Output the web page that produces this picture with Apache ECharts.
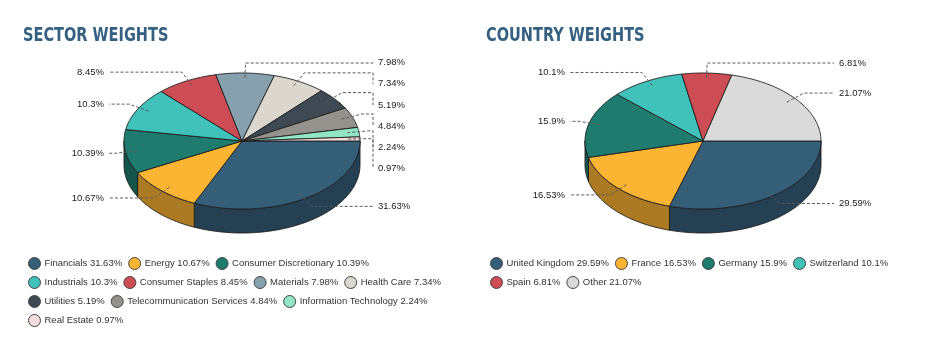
<!DOCTYPE html>
<html>
<head>
<meta charset="utf-8">
<script src="https://cdn.jsdelivr.net/npm/echarts@6/dist/echarts.min.js"></script>
<style>
html,body{margin:0;padding:0;background:#fff;}
#chart{width:926px;height:349px;}
</style>
</head>
<body>
<div id="chart"></div>
<script>
// ---- data ----
const sectorNames = ['Financials', 'Energy', 'Consumer Discretionary', 'Industrials', 'Consumer Staples', 'Materials', 'Health Care', 'Utilities', 'Telecommunication Services', 'Information Technology', 'Real Estate'];
const sectorValues = [31.63, 10.67, 10.39, 10.3, 8.45, 7.98, 7.34, 5.19, 4.84, 2.24, 0.97];
const countryNames = ['United Kingdom', 'France', 'Germany', 'Switzerland', 'Spain', 'Other'];
const countryValues = [29.59, 16.53, 15.9, 10.1, 6.81, 21.07];
const titles = ['SECTOR WEIGHTS', 'COUNTRY WEIGHTS'];

// ---- styles ----
const sectorColors = ['#355e78', '#fcb433', '#1f7b6e', '#40c1b9', '#cc4d53', '#87a0ad', '#dbd7cf', '#3e4953', '#95918d', '#92e6c5', '#f6dcdc'];
const countryColors = ['#355e78', '#fcb433', '#1f7b6e', '#40c1b9', '#cc4d53', '#dadada'];
const LABEL_FONT = '9.5px "Liberation Sans", Arial, sans-serif';
const TITLE_FONT = 'bold 19px "DejaVu Sans Condensed", "DejaVu Sans", sans-serif';

function darken(hex, f) {
  const n = parseInt(hex.slice(1), 16);
  const r = Math.round(((n >> 16) & 255) * f), g = Math.round(((n >> 8) & 255) * f), b = Math.round((n & 255) * f);
  return 'rgb(' + r + ',' + g + ',' + b + ')';
}

function arcPoints(pts, geo, a, b, off) {
  const steps = Math.max(2, Math.ceil(Math.abs(b - a) / (Math.PI / 180)));
  for (let k = 0; k <= steps; k++) {
    const t = a + (b - a) * k / steps;
    pts.push([geo.cx + geo.rx * Math.cos(t), geo.cy + off + geo.ry * Math.sin(t)]);
  }
}

function layoutPie(values, geo) {
  const total = values.reduce((s, v) => s + v, 0);
  let acc = 0;
  const slices = values.map((v, i) => {
    const a1 = acc / total * Math.PI * 2;
    acc += v;
    const a2 = acc / total * Math.PI * 2;
    const mid = (a1 + a2) / 2;
    const c = Math.cos(mid), s = Math.sin(mid);
    return {
      i, v, a1, a2, mid,
      right: c >= 0,
      ax: geo.cx + geo.rx * 0.9 * c, ay: geo.cy + geo.ry * 0.93 * s,
      nx: geo.cx + (geo.rx + 10) * c, ny: geo.cy + (geo.ry + 10) * s
    };
  });
  // distribute labels on each side (avoid overlap)
  const h = 21.2, top = 52, bottom = 236;
  [true, false].forEach(side => {
    const items = slices.filter(s => s.right === side).sort((a, b) => a.ny - b.ny);
    let boxes = items.map(s => ({ items: [s], targets: [s.ny], pos: s.ny - h / 2, size: h }));
    let changed = true;
    while (changed) {
      changed = false;
      for (let k = 1; k < boxes.length; k++) {
        const p = boxes[k - 1], b = boxes[k];
        if (p.pos + p.size > b.pos + 0.01) {
          p.items = p.items.concat(b.items);
          p.targets = p.targets.concat(b.targets);
          p.size += b.size;
          const mean = p.targets.reduce((s, t) => s + t, 0) / p.targets.length;
          p.pos = mean - p.size / 2;
          boxes.splice(k, 1);
          changed = true;
          break;
        }
      }
      boxes.forEach(b => {
        if (b.pos < top) { b.pos = top; }
        if (b.pos + b.size > bottom) { b.pos = bottom - b.size; }
      });
    }
    boxes.forEach(b => b.items.forEach((s, k) => { s.ly = b.pos + h / 2 + k * h; }));
  });
  slices.forEach(s => {
    const colX = s.right ? geo.cx + 131 : geo.cx - 133;
    s.lx = s.right ? geo.cx + 136 : geo.cx - 138;
    s.connector = [[s.ax, s.ay], [s.nx, s.ny], [colX, s.ny], [colX, s.ly]];
  });
  return { geo, slices };
}

const sectorLayout = layoutPie(sectorValues, { cx: 242, cy: 141, rx: 118, ry: 68, depth: 24 });
const countryLayout = layoutPie(countryValues, { cx: 703, cy: 141, rx: 118, ry: 68, depth: 24 });

function makeRender(L, i) {
  return function (params, api) {
    const g = L.geo, s = L.slices[i];
    const color = api.visual('color');
    const children = [];
    const w1 = Math.max(s.a1, 0), w2 = Math.min(s.a2, Math.PI);
    if (w2 > w1) {
      const pts = [];
      arcPoints(pts, g, w1, w2, 0);
      arcPoints(pts, g, w2, w1, g.depth);
      children.push({ type: 'polygon', z2: 1, shape: { points: pts }, style: { fill: darken(color, 0.68), stroke: '#1e1e1e', lineWidth: 0.9 } });
    }
    const tp = [[g.cx, g.cy]];
    arcPoints(tp, g, s.a1, s.a2, 0);
    children.push({ type: 'polygon', z2: 5, shape: { points: tp }, style: { fill: color, stroke: '#1e1e1e', lineWidth: 0.9 } });
    children.push({ type: 'polyline', z2: 8, silent: true, shape: { points: s.connector }, style: { fill: null, stroke: '#5a5a5a', lineWidth: 1, lineDash: [3, 2] } });
    children.push({ type: 'text', z2: 9, silent: true, x: s.lx, y: s.ly, style: { text: api.value(0) + '%', font: LABEL_FONT, fill: '#222', align: s.right ? 'left' : 'right', verticalAlign: 'middle' } });
    return { type: 'group', children };
  };
}

const series = [];
sectorNames.forEach((n, i) => series.push({
  type: 'custom', name: n, coordinateSystem: 'none', data: [[sectorValues[i]]],
  itemStyle: { color: sectorColors[i] }, renderItem: makeRender(sectorLayout, i)
}));
countryNames.forEach((n, i) => series.push({
  type: 'custom', name: n, coordinateSystem: 'none', data: [[countryValues[i]]],
  itemStyle: { color: countryColors[i] }, renderItem: makeRender(countryLayout, i)
}));

const valueOf = {};
sectorNames.forEach((n, i) => valueOf[n] = sectorValues[i]);
countryNames.forEach((n, i) => valueOf[n] = countryValues[i]);

const legendBase = {
  icon: 'circle', itemWidth: 12, itemHeight: 12, itemGap: 6, orient: 'horizontal', padding: 0,
  itemStyle: { borderColor: '#444', borderWidth: 1 },
  textStyle: { fontFamily: '"Liberation Sans", Arial, sans-serif', fontSize: 9.5, color: '#333', padding: [0, 0, 0, -1] },
  formatter: name => name + ' ' + valueOf[name] + '%'
};

function titleText(text, x) {
  return {
    type: 'text', x: x, y: 26.5, scaleX: 0.85, silent: true,
    style: { text: text, font: TITLE_FONT, fill: '#356082', align: 'left', verticalAlign: 'top' }
  };
}

const chart = echarts.init(document.getElementById('chart'), null, { renderer: 'canvas' });
chart.setOption({
  animation: false,
  backgroundColor: '#ffffff',
  graphic: [titleText(titles[0], 23), titleText(titles[1], 486)],
  legend: [
    Object.assign({}, legendBase, { data: sectorNames, left: 28, top: 257, width: 425 }),
    Object.assign({}, legendBase, { data: countryNames, left: 490, top: 257, width: 430 })
  ],
  series: series
});
</script>
</body>
</html>
